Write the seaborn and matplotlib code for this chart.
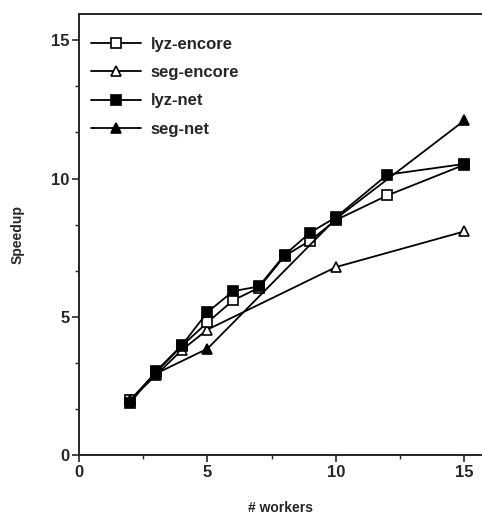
import numpy as np
import pandas as pd
import seaborn as sns
import matplotlib.pyplot as plt
from matplotlib.ticker import MultipleLocator

lyz_encore_x = [2, 3, 4, 5, 6, 7, 8, 9, 10, 12, 15]
lyz_encore_y = [2.0, 3.0, 3.95, 4.8, 5.6, 6.05, 7.2, 7.76, 8.5, 9.39, 10.5]

seg_encore_x = [2, 3, 4, 5, 10, 15]
seg_encore_y = [2.0, 2.9, 3.8, 4.54, 6.8, 8.09]

lyz_net_x = [2, 3, 4, 5, 6, 7, 8, 9, 10, 12, 15]
lyz_net_y = [1.9, 3.04, 3.97, 5.17, 5.93, 6.1, 7.24, 8.05, 8.6, 10.14, 10.53]

seg_net_x = [2, 3, 5, 10, 15]
seg_net_y = [2.0, 2.95, 3.85, 8.55, 12.1]

series = [
    ('lyz-encore', lyz_encore_x, lyz_encore_y, 's', 'white', 3),
    ('seg-encore', seg_encore_x, seg_encore_y, '^', 'white', 2),
    ('lyz-net', lyz_net_x, lyz_net_y, 's', 'black', 5),
    ('seg-net', seg_net_x, seg_net_y, '^', 'black', 4),
]

sns.set_style('ticks')
plt.rcParams['font.family'] = ['Liberation Sans', 'DejaVu Sans']
plt.rcParams['font.weight'] = 'bold'

fig = plt.figure(figsize=(4.82, 5.19), dpi=100)
ax = fig.add_axes([0.164, 0.123, 0.834, 0.850])

for name, xs, ys, mk, fc, z in series:
    df = pd.DataFrame({'workers': xs, 'speedup': ys})
    sns.lineplot(data=df, x='workers', y='speedup', ax=ax, color='black',
                 linewidth=1.3, marker=mk, markersize=7, markerfacecolor=fc,
                 markeredgecolor='black', markeredgewidth=1.2, label=name,
                 zorder=z)

ax.set_xlim(0, 15.65)
ax.set_ylim(0, 15.95)
ax.xaxis.set_major_locator(MultipleLocator(5))
ax.xaxis.set_minor_locator(MultipleLocator(2.5))
ax.yaxis.set_major_locator(MultipleLocator(5))
ax.yaxis.set_minor_locator(MultipleLocator(5 / 3))
ax.tick_params(which='major', direction='out', length=5, width=1.2,
               labelsize=12, pad=2)
ax.tick_params(which='minor', direction='out', length=3, width=1)
for lab in ax.get_xticklabels() + ax.get_yticklabels():
    lab.set_fontweight('bold')

ax.spines['right'].set_visible(False)
for s in ['left', 'bottom', 'top']:
    ax.spines[s].set_linewidth(1.4)

ax.set_xlabel('# workers', fontsize=10, fontweight='bold', labelpad=15)
ax.set_ylabel('Speedup', fontsize=10, fontweight='bold', labelpad=19)

leg = ax.legend(loc='upper left', bbox_to_anchor=(0.0, 0.975), frameon=False,
                fontsize=12, handlelength=3.0, labelspacing=0.8,
                handletextpad=0.6, borderaxespad=0.3)
for t in leg.get_texts():
    t.set_fontweight('bold')

fig.savefig('out.png', dpi=100)
